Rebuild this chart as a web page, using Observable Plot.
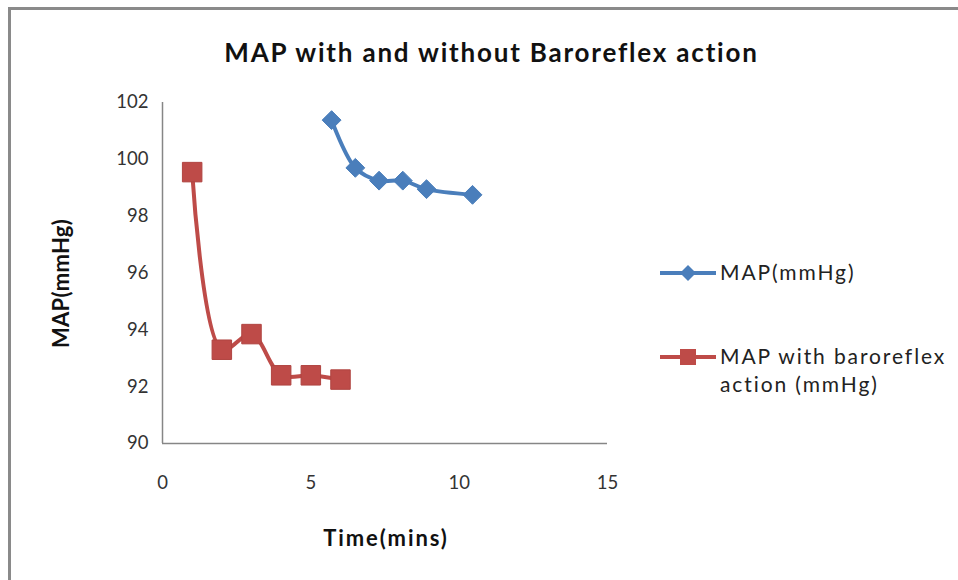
<!DOCTYPE html>
<html><head><meta charset="utf-8">
<script src="https://cdn.jsdelivr.net/npm/d3@7"></script>
<script src="https://cdn.jsdelivr.net/npm/@observablehq/plot@0.6"></script>
<style>
body{margin:0;background:#fff;font-family:Lato, sans-serif}
#wrap{position:relative;width:958px;height:580px;overflow:hidden;background:#fff}
#frame{position:absolute;left:8px;top:7px;width:2000px;height:2000px;border-top:3px solid #8a8a8a;border-left:3px solid #8a8a8a;pointer-events:none}
#chart{position:absolute;left:0;top:0}
#title{position:absolute;left:0;width:983px;top:36px;text-align:center;font-weight:bold;font-size:26px;letter-spacing:1.8px;color:#111;white-space:nowrap}
#xlabel{position:absolute;left:235px;width:302px;top:524px;text-align:center;font-weight:bold;font-size:22px;letter-spacing:1.9px;color:#111}
#ylabel{position:absolute;left:-40px;top:270px;width:200px;text-align:center;font-weight:bold;font-size:22px;letter-spacing:0.3px;color:#111;transform:rotate(-90deg);transform-origin:center}
.leg{position:absolute;font-size:21px;letter-spacing:1.9px;color:#222;white-space:nowrap;line-height:28px}
svg.sw{position:absolute;overflow:visible}
</style></head>
<body>
<div id="wrap">
<div id="title">MAP with and without Baroreflex action</div>
<div id="chart"></div>
<div id="xlabel">Time(mins)</div>
<div id="ylabel">MAP(mmHg)</div>
<svg class="sw" style="left:660px;top:263px" width="60" height="20">
  <line x1="0" y1="10" x2="56" y2="10" stroke="#4a7ebb" stroke-width="4"/>
  <path d="M28,2 L36,10 L28,18 L20,10 Z" fill="#4a7ebb"/>
</svg>
<div class="leg" style="left:720px;top:258px">MAP(mmHg)</div>
<svg class="sw" style="left:660px;top:347px" width="60" height="20">
  <line x1="0" y1="10" x2="56" y2="10" stroke="#be4b48" stroke-width="4"/>
  <rect x="20" y="2" width="16" height="16" fill="#be4b48"/>
</svg>
<div class="leg" style="left:720px;top:342px">MAP with baroreflex<br>action (mmHg)</div>
<div id="frame"></div>
</div>
<script>
const seriesNames = ["MAP(mmHg)", "MAP with baroreflex action (mmHg)"];
const timeWithout = [5.7, 6.5, 7.3, 8.1, 8.9, 10.45];
const mapWithout = [101.38, 99.7, 99.25, 99.25, 98.95, 98.75];
const timeWith = [1, 2, 3, 4, 5, 6];
const mapWith = [99.55, 93.3, 93.85, 92.4, 92.4, 92.25];
const xTicks = [0, 5, 10, 15];
const yTicks = [90, 92, 94, 96, 98, 100, 102];

const blue = "#4a7ebb", red = "#be4b48", axisGray = "#868686";
const dataWithout = timeWithout.map((t, i) => ({t, v: mapWithout[i]}));
const dataWith = timeWith.map((t, i) => ({t, v: mapWith[i]}));

const chart = Plot.plot({
  width: 958, height: 580,
  marginLeft: 162, marginRight: 351, marginTop: 102, marginBottom: 137,
  x: {domain: [0, 15]},
  y: {domain: [90, 102]},
  style: {fontFamily: "Lato, sans-serif", fontSize: "18.5px", color: "#333", background: "transparent", overflow: "visible"},
  marks: [
    Plot.axisX({ticks: xTicks, tickSize: 0, tickPadding: 32, label: null, tickFormat: d3.format("d")}),
    Plot.axisY({ticks: yTicks, tickSize: 0, tickPadding: 14, label: null, tickFormat: d3.format("d")}),
    Plot.ruleX([0], {stroke: axisGray, strokeWidth: 1.5}),
    Plot.ruleY([90], {stroke: axisGray, strokeWidth: 1.5}),
    Plot.line(dataWithout, {x: "t", y: "v", stroke: blue, strokeWidth: 4, curve: "catmull-rom"}),
    Plot.line(dataWith, {x: "t", y: "v", stroke: red, strokeWidth: 4, curve: "catmull-rom"}),
    Plot.dot(dataWithout, {x: "t", y: "v", symbol: "diamond2", r: 8.5, fill: blue, stroke: blue, strokeWidth: 1}),
    Plot.dot(dataWith, {x: "t", y: "v", symbol: "square", r: 11, fill: red, stroke: "#b04440", strokeWidth: 1})
  ]
});
document.getElementById("chart").appendChild(chart);
</script>
</body></html>
